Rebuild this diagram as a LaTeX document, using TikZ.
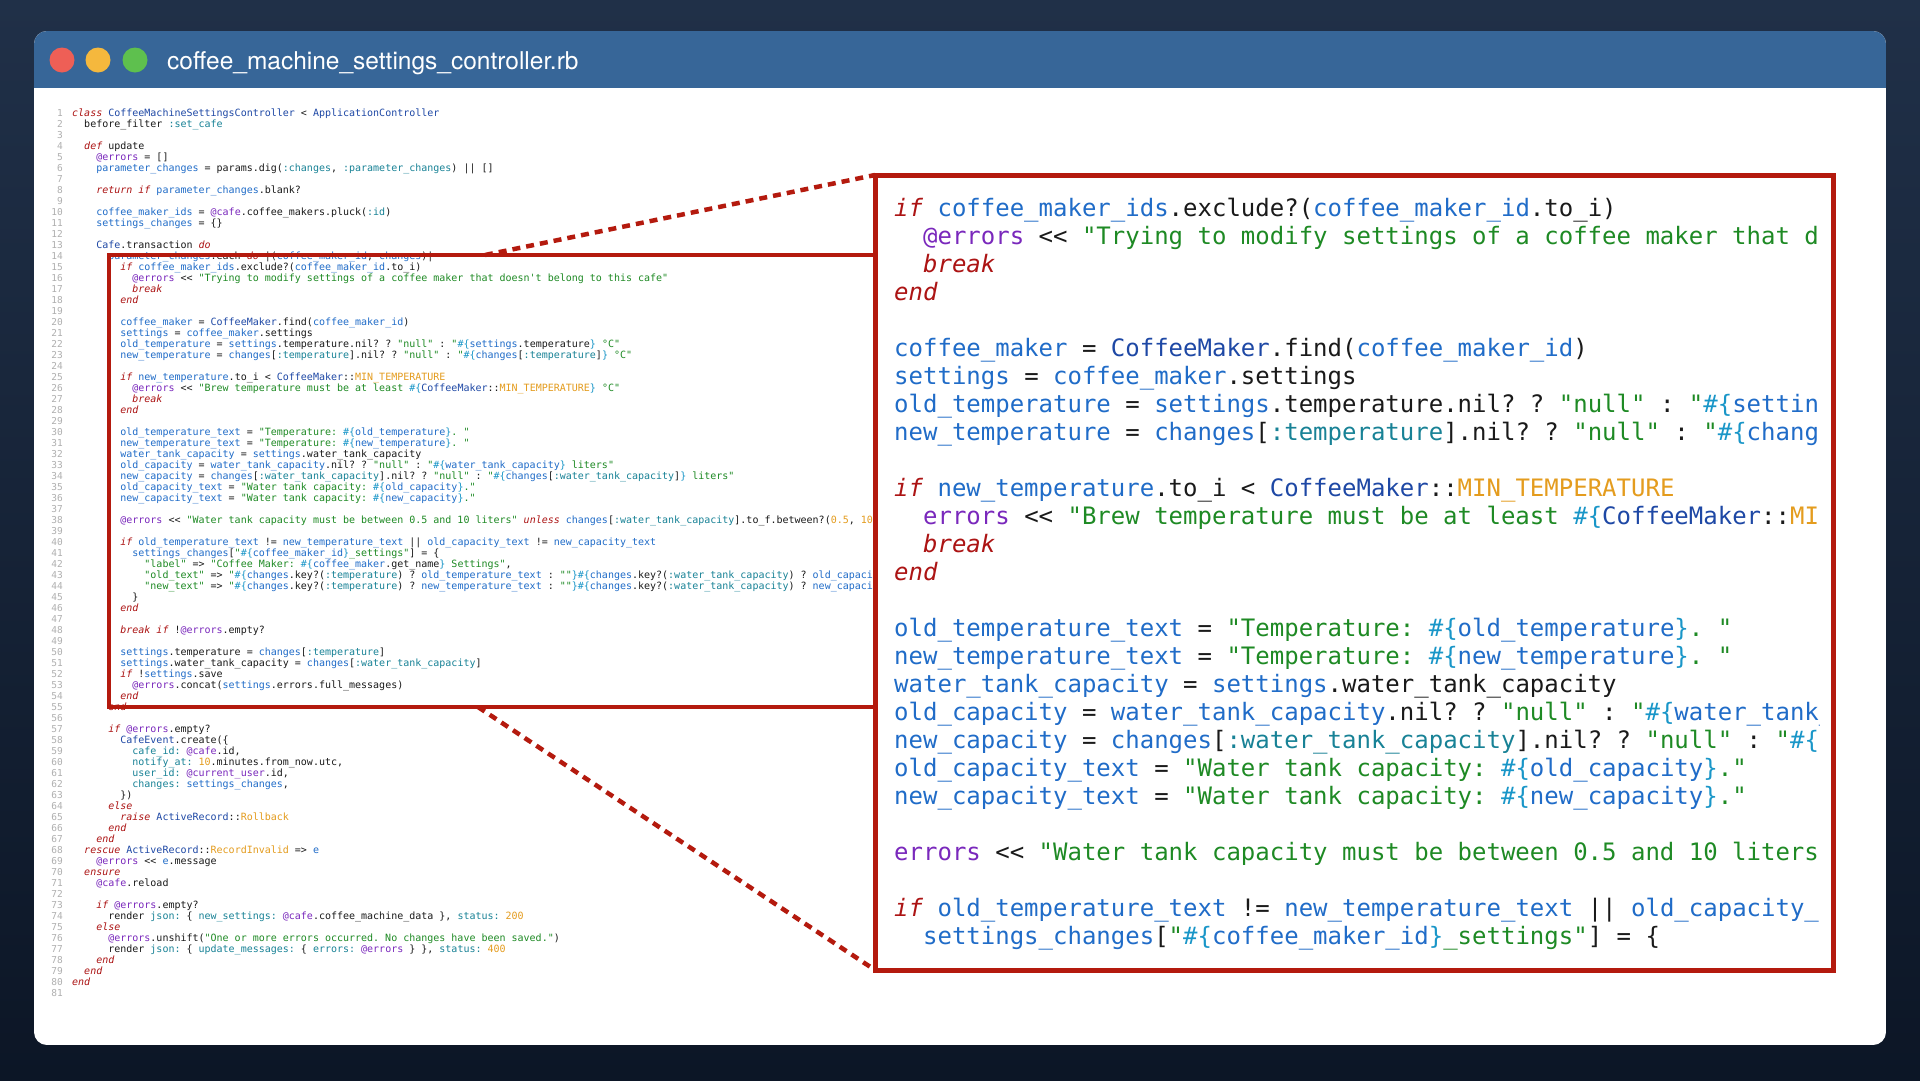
\documentclass[tikz,border=0pt]{standalone}
\usepackage{fontspec}
\setmainfont{TeX Gyre Heros}
\newfontfamily\codefont{DejaVu Sans Mono}
\usetikzlibrary{calc}
\definecolor{ckw}{RGB}{172,20,20}
\definecolor{ccl}{RGB}{30,72,165}
\definecolor{cvr}{RGB}{32,108,200}
\definecolor{csy}{RGB}{24,130,150}
\definecolor{civ}{RGB}{122,40,188}
\definecolor{cst}{RGB}{30,138,36}
\definecolor{cin}{RGB}{25,150,200}
\definecolor{cnu}{RGB}{228,156,30}
\definecolor{cblack}{RGB}{26,26,26}
\definecolor{clnum}{RGB}{175,175,175}
\definecolor{zred}{RGB}{180,26,14}
\definecolor{titlebar}{RGB}{55,102,152}
\definecolor{bgtop}{RGB}{32,48,72}
\definecolor{bgbot}{RGB}{12,22,38}
\definecolor{dotred}{RGB}{238,95,86}
\definecolor{dotorange}{RGB}{245,184,61}
\definecolor{dotgreen}{RGB}{94,192,78}
\newcommand\KW[1]{\textcolor{ckw}{\itshape #1}}
\newcommand\CL[1]{\textcolor{ccl}{#1}}
\newcommand\VR[1]{\textcolor{cvr}{#1}}
\newcommand\SY[1]{\textcolor{csy}{#1}}
\newcommand\IV[1]{\textcolor{civ}{#1}}
\newcommand\STR[1]{\textcolor{cst}{#1}}
\newcommand\INT[1]{\textcolor{cin}{#1}}
\newcommand\NUM[1]{\textcolor{cnu}{#1}}
\newcommand\defline[2]{\expandafter\def\csname codeL#1\endcsname{#2}}
\defline{1}{\KW{class} \CL{CoffeeMachineSettingsController} < \CL{ApplicationController}}
\defline{2}{before\_filter \SY{:set\_cafe}}
\defline{4}{\KW{def} update}
\defline{5}{\IV{@errors} = []}
\defline{6}{\VR{parameter\_changes} = params.dig(\SY{:changes}, \SY{:parameter\_changes}) || []}
\defline{8}{\KW{return} \KW{if} \VR{parameter\_changes}.blank?}
\defline{10}{\VR{coffee\_maker\_ids} = \IV{@cafe}.coffee\_makers.pluck(\SY{:id})}
\defline{11}{\VR{settings\_changes} = \{\}}
\defline{13}{\CL{Cafe}.transaction \KW{do}}
\defline{14}{\VR{parameter\_changes}.each \KW{do} |(\VR{coffee\_maker\_id}, \VR{changes})|}
\defline{15}{\KW{if} \VR{coffee\_maker\_ids}.exclude?(\VR{coffee\_maker\_id}.to\_i)}
\defline{16}{\IV{@errors} <{}< \STR{"Trying to modify settings of a coffee maker that doesn\textquotesingle t belong to this cafe"}}
\defline{17}{\KW{break}}
\defline{18}{\KW{end}}
\defline{20}{\VR{coffee\_maker} = \CL{CoffeeMaker}.find(\VR{coffee\_maker\_id})}
\defline{21}{\VR{settings} = \VR{coffee\_maker}.settings}
\defline{22}{\VR{old\_temperature} = \VR{settings}.temperature.nil? ? \STR{"null"} : \STR{"}\INT{\#\{}\VR{settings}.temperature\INT{\}}\textcolor{cst}{\ °C"}}
\defline{23}{\VR{new\_temperature} = \VR{changes}[\SY{:temperature}].nil? ? \STR{"null"} : \STR{"}\INT{\#\{}\VR{changes}[\SY{:temperature}]\INT{\}}\textcolor{cst}{\ °C"}}
\defline{25}{\KW{if} \VR{new\_temperature}.to\_i < \CL{CoffeeMaker}::\NUM{MIN\_TEMPERATURE}}
\defline{26}{\IV{@errors} <{}< \STR{"Brew temperature must be at least }\INT{\#\{}\CL{CoffeeMaker}::\NUM{MIN\_TEMPERATURE}\INT{\}}\textcolor{cst}{\ °C"}}
\defline{B26}{\IV{errors} <{}< \STR{"Brew temperature must be at least }\INT{\#\{}\CL{CoffeeMaker}::\NUM{MIN\_TEMPERATURE}\INT{\}}\textcolor{cst}{\ °C"}}
\defline{27}{\KW{break}}
\defline{28}{\KW{end}}
\defline{30}{\VR{old\_temperature\_text} = \STR{"Temperature: }\INT{\#\{}\VR{old\_temperature}\INT{\}}\STR{. "}}
\defline{31}{\VR{new\_temperature\_text} = \STR{"Temperature: }\INT{\#\{}\VR{new\_temperature}\INT{\}}\STR{. "}}
\defline{32}{\VR{water\_tank\_capacity} = \VR{settings}.water\_tank\_capacity}
\defline{33}{\VR{old\_capacity} = \VR{water\_tank\_capacity}.nil? ? \STR{"null"} : \STR{"}\INT{\#\{}\VR{water\_tank\_capacity}\INT{\}}\STR{\ liters"}}
\defline{34}{\VR{new\_capacity} = \VR{changes}[\SY{:water\_tank\_capacity}].nil? ? \STR{"null"} : \STR{"}\INT{\#\{}\VR{changes}[\SY{:water\_tank\_capacity}]\INT{\}}\STR{\ liters"}}
\defline{35}{\VR{old\_capacity\_text} = \STR{"Water tank capacity: }\INT{\#\{}\VR{old\_capacity}\INT{\}}\STR{."}}
\defline{36}{\VR{new\_capacity\_text} = \STR{"Water tank capacity: }\INT{\#\{}\VR{new\_capacity}\INT{\}}\STR{."}}
\defline{38}{\IV{@errors} <{}< \STR{"Water tank capacity must be between 0.5 and 10 liters"} \KW{unless} \VR{changes}[\SY{:water\_tank\_capacity}].to\_f.between?(\NUM{0.5}, \NUM{10.0})}
\defline{B38}{\IV{errors} <{}< \STR{"Water tank capacity must be between 0.5 and 10 liters"} \KW{unless} \VR{changes}[\SY{:water\_tank\_capacity}].to\_f.between?(\NUM{0.5}, \NUM{10.0})}
\defline{40}{\KW{if} \VR{old\_temperature\_text} != \VR{new\_temperature\_text} || \VR{old\_capacity\_text} != \VR{new\_capacity\_text}}
\defline{41}{\VR{settings\_changes}[\STR{"}\INT{\#\{}\VR{coffee\_maker\_id}\INT{\}}\STR{\_settings"}] = \{}
\defline{42}{\STR{"label"} => \STR{"Coffee Maker: }\INT{\#\{}\VR{coffee\_maker}.get\_name\INT{\}}\STR{\ Settings"},}
\defline{43}{\STR{"old\_text"} => \STR{"}\INT{\#\{}\VR{changes}.key?(\SY{:temperature}) ? \VR{old\_temperature\_text} : \STR{""}\INT{\}\#\{}\VR{changes}.key?(\SY{:water\_tank\_capacity}) ? \VR{old\_capacity\_text} : \STR{""}\INT{\}}\STR{"},}
\defline{44}{\STR{"new\_text"} => \STR{"}\INT{\#\{}\VR{changes}.key?(\SY{:temperature}) ? \VR{new\_temperature\_text} : \STR{""}\INT{\}\#\{}\VR{changes}.key?(\SY{:water\_tank\_capacity}) ? \VR{new\_capacity\_text} : \STR{""}\INT{\}}\STR{"}}
\defline{45}{\}}
\defline{46}{\KW{end}}
\defline{48}{\KW{break} \KW{if} !\IV{@errors}.empty?}
\defline{50}{\VR{settings}.temperature = \VR{changes}[\SY{:temperature}]}
\defline{51}{\VR{settings}.water\_tank\_capacity = \VR{changes}[\SY{:water\_tank\_capacity}]}
\defline{52}{\KW{if} !\VR{settings}.save}
\defline{53}{\IV{@errors}.concat(\VR{settings}.errors.full\_messages)}
\defline{54}{\KW{end}}
\defline{55}{\KW{end}}
\defline{57}{\KW{if} \IV{@errors}.empty?}
\defline{58}{\CL{CafeEvent}.create(\{}
\defline{59}{\SY{cafe\_id:} \IV{@cafe}.id,}
\defline{60}{\SY{notify\_at:} \NUM{10}.minutes.from\_now.utc,}
\defline{61}{\SY{user\_id:} \IV{@current\_user}.id,}
\defline{62}{\SY{changes:} \VR{settings\_changes},}
\defline{63}{\})}
\defline{64}{\KW{else}}
\defline{65}{\KW{raise} \CL{ActiveRecord}::\NUM{Rollback}}
\defline{66}{\KW{end}}
\defline{67}{\KW{end}}
\defline{68}{\KW{rescue} \CL{ActiveRecord}::\NUM{RecordInvalid} => \VR{e}}
\defline{69}{\IV{@errors} <{}< \VR{e}.message}
\defline{70}{\KW{ensure}}
\defline{71}{\IV{@cafe}.reload}
\defline{73}{\KW{if} \IV{@errors}.empty?}
\defline{74}{render \SY{json:} \{ \SY{new\_settings:} \IV{@cafe}.coffee\_machine\_data \}, \SY{status:} \NUM{200}}
\defline{75}{\KW{else}}
\defline{76}{\IV{@errors}.unshift(\STR{"One or more errors occurred. No changes have been saved."})}
\defline{77}{render \SY{json:} \{ \SY{update\_messages:} \{ \SY{errors:} \IV{@errors} \} \}, \SY{status:} \NUM{400}}
\defline{78}{\KW{end}}
\defline{79}{\KW{end}}
\defline{80}{\KW{end}}
\tikzset{
  lnum/.style={anchor=base east, inner sep=0, text=clnum, font=\codefont\fontsize{9.5}{11}\selectfont},
  smallcode/.style={anchor=base west, inner sep=0, text=cblack, font=\codefont\fontsize{10}{11}\selectfont\frenchspacing},
  bigcode/.style={anchor=base west, inner sep=0, text=cblack, font=\codefont\fontsize{24}{28}\selectfont\frenchspacing},
  zoombox/.style={draw=zred, inner sep=0, outer sep=0, anchor=north west},
  zoomlink/.style={draw=zred, line width=4.5pt, dash pattern=on 8pt off 6pt},
  dot/.style={circle, inner sep=0, minimum size=25pt},
}
\begin{document}
\begin{tikzpicture}[x=1pt, y=-1pt]
\useasboundingbox (0,0) rectangle (1920,1080);
% background
\shade[top color=bgtop, bottom color=bgbot] (0,0) rectangle (1920,1080);
% window
\begin{scope}
  \clip[rounded corners=13pt] (34,31) rectangle (1886,1045);
  \fill[white] (34,31) rectangle (1886,1045);
  \fill[titlebar] (34,31) rectangle (1886,88);
\end{scope}
\node[dot, fill=dotred] (d1) at (62,60) {};
\node[dot, fill=dotorange] (d2) at (98,60) {};
\node[dot, fill=dotgreen] (d3) at (135,60) {};
\node[anchor=base west, inner sep=0, text=white, font=\fontsize{24.5}{28}\selectfont] (title) at (167,69) {coffee\_machine\_settings\_controller.rb};
% line numbers
\foreach \n in {1,...,81}
  \node[lnum] (n\n) at (63,{116.5+11*(\n-1)}) {\n};
% small code
\foreach \n/\ind in {1/0,2/2,4/2,5/4,6/4,8/4,10/4,11/4,13/4,14/6,15/8,16/10,17/10,18/8,20/8,21/8,22/8,23/8,25/8,26/10,27/10,28/8,30/8,31/8,32/8,33/8,34/8,35/8,36/8,38/8,40/8,41/10,42/12,43/12,44/12,45/10,46/8,48/8,50/8,51/8,52/8,53/10,54/8,55/6,57/6,58/8,59/10,60/10,61/10,62/10,63/8,64/6,65/8,66/6,67/4,68/2,69/4,70/2,71/4,73/4,74/6,75/4,76/6,77/6,78/4,79/2,80/0}
  \node[smallcode] (s\n) at ({72+6.02*\ind},{116.5+11*(\n-1)}) {\csname codeL\n\endcsname};
% small selection box
\node[zoombox, line width=4pt, minimum width=766pt, minimum height=452pt] (sbox) at (109,255) {};
% zoom links
\draw[zoomlink] ([xshift=376pt]sbox.north west) -- (875,175);
\draw[zoomlink] ([xshift=369pt]sbox.south west) -- (875,970);
% big box
\node[zoombox, line width=5pt, fill=white, minimum width=958pt, minimum height=795pt] (bbox) at (875,175) {};
\begin{scope}
  \clip (878,178) rectangle (1819,967);
  \foreach \n/\ind in {15/0,16/2,17/2,18/0,20/0,21/0,22/0,23/0,25/0,26/2,27/2,28/0,30/0,31/0,32/0,33/0,34/0,35/0,36/0,38/0,40/0,41/2}
    \node[bigcode] (b\n) at ({894+14.45*\ind},{216+28*(\n-15)}) {\ifcsname codeLB\n\endcsname\csname codeLB\n\endcsname\else\csname codeL\n\endcsname\fi};
\end{scope}
\end{tikzpicture}
\end{document}
